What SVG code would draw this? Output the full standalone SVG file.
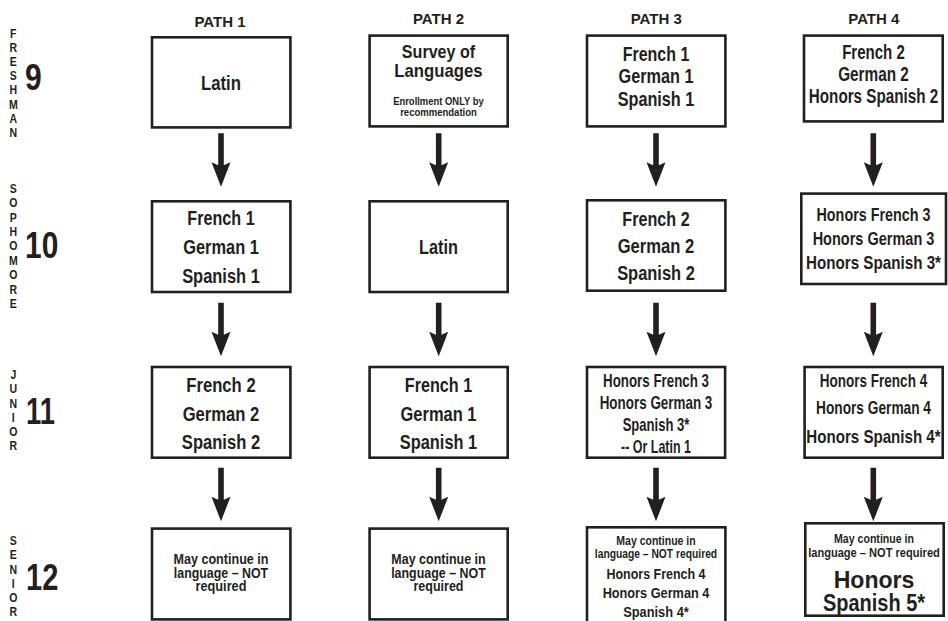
<svg xmlns="http://www.w3.org/2000/svg" width="948" height="621" viewBox="0 0 948 621">
<style>
.bg{fill:#ffffff}
.box{fill:#ffffff;stroke:#231f20;stroke-width:2.6}
.t{font-family:"Liberation Sans",Arial,sans-serif;font-weight:bold;text-anchor:middle;fill:#231f20}
.h{font-family:"Liberation Sans",Arial,sans-serif;font-weight:bold;text-anchor:middle;fill:#231f20;font-size:15px}
.side{font-family:"Liberation Sans",Arial,sans-serif;font-weight:bold;text-anchor:middle;fill:#231f20;font-size:13.5px}
.num{font-family:"Liberation Sans",Arial,sans-serif;font-weight:bold;fill:#231f20;font-size:36px}
.arrow{fill:#231f20}
</style>
<defs>
<path id="arr" d="M-2.8 0H2.8V32L9.5 29L0 53.5L-9.5 29L-2.8 32Z"/>
</defs>
<rect class="bg" x="0" y="0" width="948" height="621"/>

<g id="headers">
<text class="h" x="220" y="26.7">PATH 1</text>
<text class="h" x="438.5" y="24">PATH 2</text>
<text class="h" x="656.2" y="24">PATH 3</text>
<text class="h" x="873.8" y="24">PATH 4</text>
</g>

<g id="grade-labels">
<g transform="translate(13.3,0) scale(0.78,1)">
<text class="side"><tspan x="0" y="37.7">F</tspan><tspan x="0" dy="14.2">R</tspan><tspan x="0" dy="14.2">E</tspan><tspan x="0" dy="14.2">S</tspan><tspan x="0" dy="14.2">H</tspan><tspan x="0" dy="14.2">M</tspan><tspan x="0" dy="14.2">A</tspan><tspan x="0" dy="14.2">N</tspan></text>
<text class="side"><tspan x="0" y="192.7">S</tspan><tspan x="0" dy="14.45">O</tspan><tspan x="0" dy="14.45">P</tspan><tspan x="0" dy="14.45">H</tspan><tspan x="0" dy="14.45">O</tspan><tspan x="0" dy="14.45">M</tspan><tspan x="0" dy="14.45">O</tspan><tspan x="0" dy="14.45">R</tspan><tspan x="0" dy="14.45">E</tspan></text>
<text class="side"><tspan x="0" y="379.3">J</tspan><tspan x="0" dy="14.15">U</tspan><tspan x="0" dy="14.15">N</tspan><tspan x="0" dy="14.15">I</tspan><tspan x="0" dy="14.15">O</tspan><tspan x="0" dy="14.15">R</tspan></text>
<text class="side"><tspan x="0" y="545">S</tspan><tspan x="0" dy="14.3">E</tspan><tspan x="0" dy="14.3">N</tspan><tspan x="0" dy="14.3">I</tspan><tspan x="0" dy="14.3">O</tspan><tspan x="0" dy="14.3">R</tspan></text>
</g>
<text class="num" x="25" y="90" textLength="16.7" lengthAdjust="spacingAndGlyphs">9</text>
<text class="num" x="25" y="258.3" textLength="33.3" lengthAdjust="spacingAndGlyphs">10</text>
<text class="num" x="26" y="424" textLength="29" lengthAdjust="spacingAndGlyphs">11</text>
<text class="num" x="26" y="590" textLength="32.3" lengthAdjust="spacingAndGlyphs">12</text>
</g>

<g id="connectors">
<use href="#arr" class="arrow" x="221" y="133.3"/>
<use href="#arr" class="arrow" x="438.7" y="133.3"/>
<use href="#arr" class="arrow" x="656" y="133.3"/>
<use href="#arr" class="arrow" x="873.3" y="133.3"/>
<use href="#arr" class="arrow" x="221" y="302.7"/>
<use href="#arr" class="arrow" x="438.7" y="302.7"/>
<use href="#arr" class="arrow" x="656" y="302.7"/>
<use href="#arr" class="arrow" x="873.3" y="302.7"/>
<use href="#arr" class="arrow" x="221" y="467.8"/>
<use href="#arr" class="arrow" x="438.7" y="467.8"/>
<use href="#arr" class="arrow" x="656" y="467.8"/>
<use href="#arr" class="arrow" x="873.3" y="467.8"/>
</g>

<g id="p1-9">
<rect class="box" x="152" y="37.3" width="138.4" height="90.1"/>
<text class="t" x="221" y="90" font-size="19.5" textLength="40" lengthAdjust="spacingAndGlyphs">Latin</text>
</g>
<g id="p2-9">
<rect class="box" x="369.6" y="35.6" width="138.1" height="90.8"/>
<text class="t" x="438.5" y="58" font-size="19" textLength="73.3" lengthAdjust="spacingAndGlyphs">Survey of</text>
<text class="t" x="438.5" y="76.5" font-size="19" textLength="88.3" lengthAdjust="spacingAndGlyphs">Languages</text>
<text class="t" x="438.5" y="105" font-size="11.5" textLength="90.7" lengthAdjust="spacingAndGlyphs">Enrollment ONLY by</text>
<text class="t" x="438.5" y="115.5" font-size="11.5" textLength="76.7" lengthAdjust="spacingAndGlyphs">recommendation</text>
</g>
<g id="p3-9">
<rect class="box" x="587" y="35.6" width="138.4" height="90.8"/>
<text class="t" x="656" y="61" font-size="19.5" textLength="66.7" lengthAdjust="spacingAndGlyphs">French 1</text>
<text class="t" x="656" y="83.3" font-size="19.5" textLength="75" lengthAdjust="spacingAndGlyphs">German 1</text>
<text class="t" x="656" y="105.6" font-size="19.5" textLength="76.7" lengthAdjust="spacingAndGlyphs">Spanish 1</text>
</g>
<g id="p4-9">
<rect class="box" x="804" y="35.6" width="138.7" height="85.8"/>
<text class="t" x="873.5" y="59.3" font-size="19.5" textLength="62.7" lengthAdjust="spacingAndGlyphs">French 2</text>
<text class="t" x="873.5" y="80.7" font-size="19.5" textLength="70.7" lengthAdjust="spacingAndGlyphs">German 2</text>
<text class="t" x="873.5" y="102.7" font-size="19.5" textLength="129.3" lengthAdjust="spacingAndGlyphs">Honors Spanish 2</text>
</g>

<g id="p1-10">
<rect class="box" x="152" y="201.3" width="138.4" height="90.7"/>
<text class="t" x="221" y="225" font-size="19.5" textLength="67.3" lengthAdjust="spacingAndGlyphs">French 1</text>
<text class="t" x="221" y="254" font-size="19.5" textLength="75.7" lengthAdjust="spacingAndGlyphs">German 1</text>
<text class="t" x="221" y="282.7" font-size="19.5" textLength="77.7" lengthAdjust="spacingAndGlyphs">Spanish 1</text>
</g>
<g id="p2-10">
<rect class="box" x="369.6" y="201.3" width="138.1" height="90.7"/>
<text class="t" x="438.5" y="254" font-size="19.5" textLength="39" lengthAdjust="spacingAndGlyphs">Latin</text>
</g>
<g id="p3-10">
<rect class="box" x="587" y="200.3" width="138.4" height="90.4"/>
<text class="t" x="656" y="225.5" font-size="19.5" textLength="67.3" lengthAdjust="spacingAndGlyphs">French 2</text>
<text class="t" x="656" y="252.5" font-size="19.5" textLength="76.7" lengthAdjust="spacingAndGlyphs">German 2</text>
<text class="t" x="656" y="279.5" font-size="19.5" textLength="77.7" lengthAdjust="spacingAndGlyphs">Spanish 2</text>
</g>
<g id="p4-10">
<rect class="box" x="801.3" y="193.6" width="144.7" height="90.4"/>
<text class="t" x="873.5" y="220.7" font-size="19" textLength="114" lengthAdjust="spacingAndGlyphs">Honors French 3</text>
<text class="t" x="873.5" y="245" font-size="19" textLength="121.7" lengthAdjust="spacingAndGlyphs">Honors German 3</text>
<text class="t" x="873.5" y="269.3" font-size="19" textLength="135" lengthAdjust="spacingAndGlyphs">Honors Spanish 3*</text>
</g>

<g id="p1-11">
<rect class="box" x="152" y="367" width="138.4" height="90.7"/>
<text class="t" x="221" y="391.7" font-size="19.5" textLength="69.3" lengthAdjust="spacingAndGlyphs">French 2</text>
<text class="t" x="221" y="421" font-size="19.5" textLength="76.7" lengthAdjust="spacingAndGlyphs">German 2</text>
<text class="t" x="221" y="449.3" font-size="19.5" textLength="78.3" lengthAdjust="spacingAndGlyphs">Spanish 2</text>
</g>
<g id="p2-11">
<rect class="box" x="369.6" y="367" width="138.1" height="90.7"/>
<text class="t" x="438.5" y="391.7" font-size="19.5" textLength="67.3" lengthAdjust="spacingAndGlyphs">French 1</text>
<text class="t" x="438.5" y="421" font-size="19.5" textLength="76" lengthAdjust="spacingAndGlyphs">German 1</text>
<text class="t" x="438.5" y="449.3" font-size="19.5" textLength="77.3" lengthAdjust="spacingAndGlyphs">Spanish 1</text>
</g>
<g id="p3-11">
<rect class="box" x="587" y="367" width="138.1" height="90.7"/>
<text class="t" x="656" y="387.3" font-size="18.5" textLength="106" lengthAdjust="spacingAndGlyphs">Honors French 3</text>
<text class="t" x="656" y="409.3" font-size="18.5" textLength="112.7" lengthAdjust="spacingAndGlyphs">Honors German 3</text>
<text class="t" x="656" y="431" font-size="18.5" textLength="66.7" lengthAdjust="spacingAndGlyphs">Spanish 3*</text>
<text class="t" x="656" y="452.7" font-size="18.5" textLength="70" lengthAdjust="spacingAndGlyphs">-- Or Latin 1</text>
</g>
<g id="p4-11">
<rect class="box" x="804.6" y="367" width="138.1" height="90.7"/>
<text class="t" x="873.5" y="387.3" font-size="19" textLength="107.3" lengthAdjust="spacingAndGlyphs">Honors French 4</text>
<text class="t" x="873.5" y="414.3" font-size="19" textLength="115" lengthAdjust="spacingAndGlyphs">Honors German 4</text>
<text class="t" x="873.5" y="442.7" font-size="19" textLength="134.3" lengthAdjust="spacingAndGlyphs">Honors Spanish 4*</text>
</g>

<g id="p1-12">
<rect class="box" x="152" y="528.6" width="138.4" height="90.8"/>
<text class="t" x="221" y="564.3" font-size="14.5" textLength="95" lengthAdjust="spacingAndGlyphs">May continue in</text>
<text class="t" x="221" y="578" font-size="14.5" textLength="94.3" lengthAdjust="spacingAndGlyphs">language – NOT</text>
<text class="t" x="221" y="591" font-size="14.5" textLength="51" lengthAdjust="spacingAndGlyphs">required</text>
</g>
<g id="p2-12">
<rect class="box" x="369.6" y="528.6" width="138.1" height="90.8"/>
<text class="t" x="438.5" y="564.3" font-size="14.5" textLength="94.3" lengthAdjust="spacingAndGlyphs">May continue in</text>
<text class="t" x="438.5" y="578" font-size="14.5" textLength="94.7" lengthAdjust="spacingAndGlyphs">language – NOT</text>
<text class="t" x="438.5" y="591" font-size="14.5" textLength="50" lengthAdjust="spacingAndGlyphs">required</text>
</g>
<g id="p3-12">
<rect class="box" x="587" y="527.3" width="138.4" height="100"/>
<text class="t" x="656" y="545" font-size="12" textLength="79.3" lengthAdjust="spacingAndGlyphs">May continue in</text>
<text class="t" x="656" y="557.7" font-size="12" textLength="122.3" lengthAdjust="spacingAndGlyphs">language – NOT required</text>
<text class="t" x="656" y="578.7" font-size="15" textLength="99" lengthAdjust="spacingAndGlyphs">Honors French 4</text>
<text class="t" x="656" y="598.3" font-size="15" textLength="106.7" lengthAdjust="spacingAndGlyphs">Honors German 4</text>
<text class="t" x="656" y="617" font-size="15" textLength="65.7" lengthAdjust="spacingAndGlyphs">Spanish 4*</text>
</g>
<g id="p4-12">
<rect class="box" x="805.3" y="523.3" width="138.4" height="92.4"/>
<text class="t" x="874" y="543.3" font-size="13" textLength="80" lengthAdjust="spacingAndGlyphs">May continue in</text>
<text class="t" x="874" y="556.7" font-size="13" textLength="131.7" lengthAdjust="spacingAndGlyphs">language – NOT required</text>
<text class="t" x="874" y="588.3" font-size="23" textLength="80.7" lengthAdjust="spacingAndGlyphs">Honors</text>
<text class="t" x="874" y="610.7" font-size="23" textLength="102" lengthAdjust="spacingAndGlyphs">Spanish 5*</text>
</g>
</svg>
